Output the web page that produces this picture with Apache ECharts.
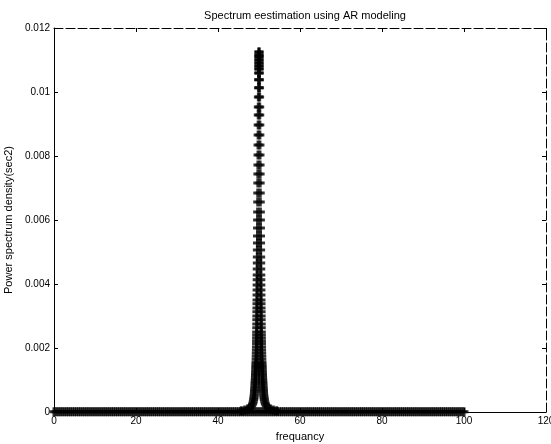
<!DOCTYPE html>
<html>
<head>
<meta charset="utf-8">
<script src="https://cdn.jsdelivr.net/npm/echarts@6/dist/echarts.min.js"></script>
<style>
html, body { margin: 0; padding: 0; background: #fff; }
#main { width: 551px; height: 444px; }
</style>
</head>
<body>
<div id="main"></div>
<script>
// tick labels
var xTicks = [0, 20, 40, 60, 80, 100, 120];
var yTicks = [0, 0.002, 0.004, 0.006, 0.008, 0.01, 0.012];

// baseline markers (psd reads as ~0 over the whole band, dense enough to look solid)
var baseFreq = [0,0.5,1,1.5,2,2.5,3,3.5,4,4.5,5,5.5,6,6.5,7,7.5,8,8.5,9,9.5,
    10,10.5,11,11.5,12,12.5,13,13.5,14,14.5,15,15.5,16,16.5,17,17.5,18,18.5,19,19.5,
    20,20.5,21,21.5,22,22.5,23,23.5,24,24.5,25,25.5,26,26.5,27,27.5,28,28.5,29,29.5,
    30,30.5,31,31.5,32,32.5,33,33.5,34,34.5,35,35.5,36,36.5,37,37.5,38,38.5,39,39.5,
    40,40.5,41,41.5,42,42.5,43,43.5,44,44.5,45,45.5,46,46.5,47,47.5,48,48.5,49,49.5,
    50,50.5,51,51.5,52,52.5,53,53.5,54,54.5,55,55.5,56,56.5,57,57.5,58,58.5,59,59.5,
    60,60.5,61,61.5,62,62.5,63,63.5,64,64.5,65,65.5,66,66.5,67,67.5,68,68.5,69,69.5,
    70,70.5,71,71.5,72,72.5,73,73.5,74,74.5,75,75.5,76,76.5,77,77.5,78,78.5,79,79.5,
    80,80.5,81,81.5,82,82.5,83,83.5,84,84.5,85,85.5,86,86.5,87,87.5,88,88.5,89,89.5,
    90,90.5,91,91.5,92,92.5,93,93.5,94,94.5,95,95.5,96,96.5,97,97.5,98,98.5,99,99.5,100];
var baseLevel = 0.00001;

// peak at 50 Hz: psd of each marker in the column and its distance from the centre (Hz)
var peakCentre = 50;
var peakPsd = [0.01125,0.01116,0.01109,0.0110,0.01091,0.01081,0.01072,0.01059,0.01038,0.01013,
    0.00984,0.00953,0.00928,0.00897,0.00866,0.00834,0.00803,0.00772,0.00744,0.00716,
    0.00684,0.00656,0.00625,0.0060,0.00575,0.0055,0.00528,0.00506,0.00484,0.00466,
    0.00447,0.00428,0.00413,0.00397,0.00381,0.00366,0.0035,0.00338,0.00325,0.00313,
    0.003,0.00288,0.00275,0.00263,0.0025,0.00241,0.00231,0.00222,0.00213,0.00203,
    0.00194,0.00184,0.00175,0.00166,0.00156,0.0015,0.00144,0.00138,0.00131,0.00125,
    0.00119,0.00113,0.00106,0.001,0.00094,0.00088,0.00081,0.00075,0.00069,0.00063,
    0.00056,0.0005,0.00044,0.00038,0.00031,0.00025,0.00019,0.00013,0.00009,0.00006,0.00004];
var peakOffset = [0.02,0.04,0.05,0.06,0.07,0.08,0.09,0.10,0.12,0.13,
    0.15,0.17,0.18,0.20,0.21,0.23,0.24,0.26,0.27,0.28,
    0.30,0.31,0.33,0.34,0.35,0.36,0.37,0.39,0.40,0.41,
    0.42,0.43,0.44,0.45,0.46,0.47,0.48,0.49,0.50,0.51,
    0.52,0.53,0.54,0.55,0.56,0.57,0.58,0.59,0.60,0.62,
    0.63,0.65,0.67,0.69,0.71,0.73,0.75,0.77,0.79,0.81,
    0.83,0.85,0.88,0.90,0.93,0.96,0.99,1.02,1.05,1.09,
    1.13,1.18,1.24,1.31,1.42,1.56,1.78,2.2,2.8,3.5,4.3];

var points = [];
for (var i = 0; i < baseFreq.length; i++) {
    points.push([baseFreq[i], baseLevel]);
}
for (var j = 0; j < peakPsd.length; j++) {
    points.push([peakCentre - peakOffset[j], peakPsd[j]]);
    points.push([peakCentre + peakOffset[j], peakPsd[j]]);
}

var plus = 'path://M3,0h3v3h3v3h-3v3h-3v-3h-3v-3h3z';
var font = 'Liberation Sans';

var dom = document.getElementById('main');
var myChart = echarts.init(dom);
var option = {
    animation: false,
    backgroundColor: '#fff',
    title: {
        text: 'Spectrum eestimation using AR modeling',
        left: 300,
        top: 5,
        textAlign: 'center',
        textStyle: {fontFamily: font, fontSize: 11, fontWeight: 'normal', color: '#000'}
    },
    grid: {left: 54, right: 5, top: 28, bottom: 32, containLabel: false, outerBoundsMode: 'none'},
    xAxis: [
        {
            type: 'value',
            min: xTicks[0],
            max: xTicks[xTicks.length - 1],
            interval: 20,
            name: 'frequancy',
            nameLocation: 'middle',
            nameGap: 19,
            nameTextStyle: {fontFamily: font, fontSize: 11, color: '#000'},
            axisLine: {show: true, onZero: false, lineStyle: {color: '#000', width: 1}},
            axisTick: {show: true, inside: true, length: 4, lineStyle: {color: '#000'}},
            axisLabel: {fontFamily: font, fontSize: 10, color: '#000', margin: 4},
            splitLine: {show: false}
        },
        {
            type: 'value',
            position: 'top',
            min: xTicks[0],
            max: xTicks[xTicks.length - 1],
            interval: 20,
            axisLine: {show: true, onZero: false, lineStyle: {color: '#000', width: 1, type: [9, 3]}},
            axisTick: {show: true, inside: true, length: 4, lineStyle: {color: '#000'}},
            axisLabel: {show: false},
            splitLine: {show: false}
        }
    ],
    yAxis: [
        {
            type: 'value',
            min: yTicks[0],
            max: yTicks[yTicks.length - 1],
            interval: 0.002,
            name: 'Power spectrum density(sec2)',
            nameLocation: 'middle',
            nameGap: 27,
            nameTextStyle: {fontFamily: font, fontSize: 11, color: '#000'},
            axisLine: {show: true, onZero: false, lineStyle: {color: '#000', width: 1}},
            axisTick: {show: true, inside: true, length: 4, lineStyle: {color: '#000'}},
            axisLabel: {fontFamily: font, fontSize: 10, color: '#000', margin: 4},
            splitLine: {show: false}
        },
        {
            type: 'value',
            position: 'right',
            min: yTicks[0],
            max: yTicks[yTicks.length - 1],
            interval: 0.002,
            axisLine: {show: true, onZero: false, lineStyle: {color: '#000', width: 1, type: [9, 3]}},
            axisTick: {show: true, inside: true, length: 4, lineStyle: {color: '#000'}},
            axisLabel: {show: false},
            splitLine: {show: false}
        }
    ],
    series: [
        {
            name: 'psd',
            type: 'scatter',
            symbol: plus,
            symbolSize: 9,
            itemStyle: {color: '#000'},
            data: points
        }
    ]
};
myChart.setOption(option, true);

window.onresize = function(){
    myChart.resize();
}
</script>
</body>
</html>
